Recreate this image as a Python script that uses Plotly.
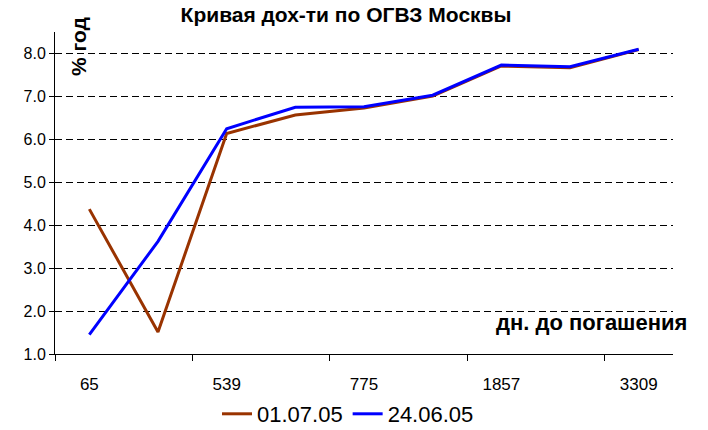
import plotly.graph_objects as go

# Data
categories = ["65", "", "539", "", "775", "", "1857", "", "3309"]
series_0107 = [4.37, 1.51, 6.13, 6.56, 6.72, 7.00, 7.70, 7.66, 8.08]
series_2406 = [1.45, 3.62, 6.24, 6.74, 6.75, 7.02, 7.72, 7.68, 8.09]
y_ticks = [1, 2, 3, 4, 5, 6, 7, 8]
y_tick_labels = ["1.0", "2.0", "3.0", "4.0", "5.0", "6.0", "7.0", "8.0"]

FONT = "Liberation Sans, Arial, sans-serif"
idx = list(range(len(categories)))

# plot area in pixels
L, R, T, B = 55, 673, 32, 354
W, H = 708, 430

fig = go.Figure()
fig.add_trace(go.Scatter(x=idx, y=series_0107, mode="lines", name="01.07.05",
                         line=dict(color="#993300", width=3)))
fig.add_trace(go.Scatter(x=idx, y=series_2406, mode="lines", name="24.06.05",
                         line=dict(color="#0000FF", width=3)))

label_idx = [i for i, c in enumerate(categories) if c]
fig.update_layout(
    width=W, height=H,
    margin=dict(l=L, r=W - R, t=T, b=H - B, autoexpand=False),
    paper_bgcolor="white", plot_bgcolor="white",
    font=dict(family=FONT, color="black"),
    title=dict(text="<b>Кривая дох-ти по ОГВЗ Москвы</b>", x=346 / W, xanchor="center",
               y=1 - 15 / H, yanchor="middle", font=dict(size=21, family=FONT)),
    showlegend=True,
    legend=dict(orientation="h", x=348 / W, xanchor="center", xref="container",
                y=1 - 414 / H, yanchor="middle", yref="container",
                font=dict(size=22, family=FONT), tracegroupgap=0),
    xaxis=dict(range=[-0.5, len(categories) - 0.5], automargin=False,
               tickmode="array", tickvals=label_idx,
               ticktext=[categories[i] for i in label_idx],
               ticks="", ticklabelstandoff=15,
               tickfont=dict(size=17, family=FONT),
               showline=True, linecolor="black", linewidth=1,
               showgrid=False, zeroline=False,
               minor=dict(tickmode="array", tickvals=[-0.5, 1.5, 3.5, 5.5, 7.5],
                          ticks="outside", ticklen=6, tickcolor="black", showgrid=False)),
    yaxis=dict(range=[1, 8.49], automargin=False,
               tickmode="array", tickvals=y_ticks, ticktext=y_tick_labels,
               ticks="outside", ticklen=5, tickcolor="black",
               tickfont=dict(size=16, family=FONT),
               showline=True, linecolor="black", linewidth=1,
               showgrid=True, gridcolor="black", gridwidth=1, griddash="7px,4px",
               zeroline=False),
    annotations=[
        dict(text="<b>% год</b>", x=(78 - L) / (R - L), y=(B - 47) / (B - T),
             xref="paper", yref="paper", xanchor="center", yanchor="middle",
             showarrow=False, textangle=-90, font=dict(size=21, family=FONT)),
        dict(text="<b>дн. до погашения</b>", x=(689 - L) / (R - L), y=(B - 322) / (B - T),
             xref="paper", yref="paper", xanchor="right", yanchor="middle",
             showarrow=False, font=dict(size=22, family=FONT)),
    ],
)

fig.write_html("out.html", config={"displayModeBar": False},
               post_script="document.body.style.margin='0';document.body.style.overflow='hidden';")
